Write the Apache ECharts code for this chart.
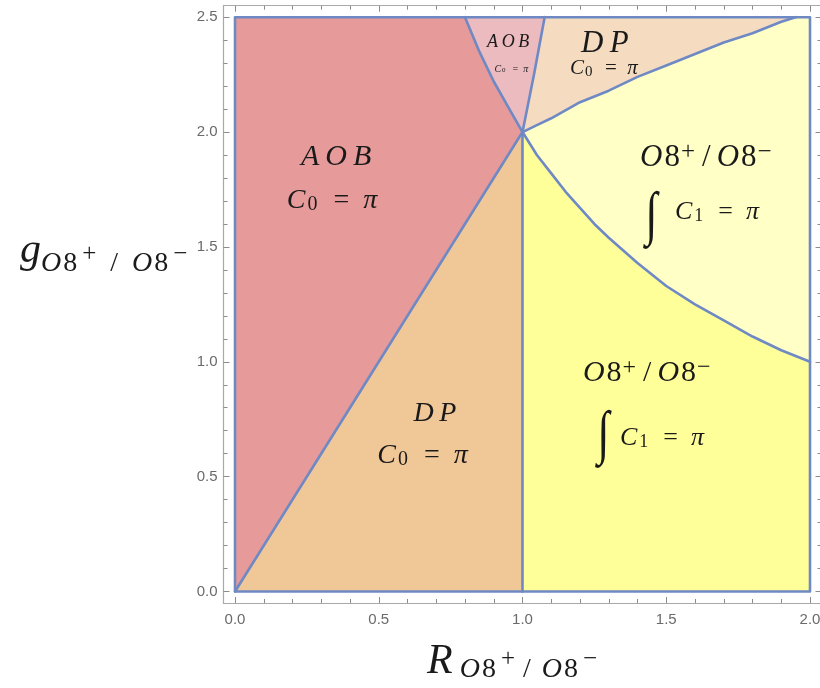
<!DOCTYPE html>
<html>
<head>
<meta charset="utf-8">
<script src="https://cdn.jsdelivr.net/npm/echarts@6/dist/echarts.min.js"></script>
<style>
html, body { margin: 0; padding: 0; background: #ffffff; }
#chart { width: 820px; height: 688px; }
</style>
</head>
<body>
<div id="chart"></div>
<script>
// Tick marks on the frame
const xTickValues = [0, 0.5, 1.0, 1.5, 2.0];
const yTickValues = [0, 0.5, 1.0, 1.5, 2.0, 2.5];
const xMinorTicks = [0.1, 0.2, 0.3, 0.4, 0.6, 0.7, 0.8, 0.9, 1.1, 1.2, 1.3, 1.4, 1.6, 1.7, 1.8, 1.9];
const yMinorTicks = [0.1, 0.2, 0.3, 0.4, 0.6, 0.7, 0.8, 0.9, 1.1, 1.2, 1.3, 1.4,
                     1.6, 1.7, 1.8, 1.9, 2.1, 2.2, 2.3, 2.4];

// Domain of the phase diagram
const rMax = 2.0;
const gMax = 2.5;

// Phase boundaries, sampled along each curve (R, g)
const diagonalR = [0.0, 1.0];
const diagonalG = [0.0, 2.0];
const verticalR = [1.0, 1.0];
const verticalG = [0.0, 2.0];
const aobSplitR = [0.80, 0.85, 0.90, 0.95, 1.00];
const aobSplitG = [2.50, 2.35, 2.22, 2.11, 2.00];
const steepR = [1.00, 1.04, 1.077];
const steepG = [2.00, 2.25, 2.50];
const upperR = [1.00, 1.05, 1.10, 1.20, 1.30, 1.40, 1.50, 1.60, 1.70, 1.80, 1.90, 1.95];
const upperG = [2.00, 2.03, 2.06, 2.13, 2.18, 2.24, 2.29, 2.34, 2.39, 2.43, 2.48, 2.50];
const lowerR = [1.00, 1.05, 1.10, 1.15, 1.20, 1.25, 1.30, 1.40, 1.50, 1.60, 1.70, 1.80, 1.90, 2.00];
const lowerG = [2.00, 1.90, 1.82, 1.74, 1.67, 1.60, 1.54, 1.43, 1.33, 1.25, 1.18, 1.11, 1.05, 1.00];

const zip = (rs, gs) => rs.map((r, i) => [r, gs[i]]);
const rev = (pts) => pts.slice().reverse();

const diagonal = zip(diagonalR, diagonalG);
const vertical = zip(verticalR, verticalG);
const aobSplit = zip(aobSplitR, aobSplitG);   // (0.8, 2.5) -> (1, 2)
const steep = zip(steepR, steepG);            // (1, 2) -> top edge
const upper = zip(upperR, upperG);            // (1, 2) -> top edge
const lower = zip(lowerR, lowerG);            // (1, 2) -> right edge

// Phase regions as closed polygons
const regions = [
  { color: '#e69a9a', pts: [[0, 0], [0, gMax]].concat(aobSplit) },                       // AOB
  { color: '#ecbbbf', pts: aobSplit.concat(steep.slice(1)) },                             // AOB (thin wedge)
  { color: '#f5dcc0', pts: steep.concat(rev(upper).slice(0, -1)) },                       // DP (top)
  { color: '#ffffc6', pts: upper.concat([[rMax, gMax], [rMax, 1.0]]).concat(rev(lower).slice(1, -1)) }, // O8 (upper)
  { color: '#f0c898', pts: [[0, 0], [1, 2], [1, 0]] },                                    // DP (bottom)
  { color: '#ffff99', pts: [[1, 0]].concat(lower).concat([[rMax, 0]]) }                   // O8 (lower)
];

const boundaries = [
  [[0, 0], [0, gMax], [rMax, gMax], [rMax, 0], [0, 0]],
  diagonal,
  vertical,
  aobSplit.slice(0, -1).concat(lower),
  steep,
  upper
];

const SERIF = '"Liberation Serif", "DejaVu Serif", serif';
const INK = '#1a1a1a';
function richSet(s) {
  return {
    it:  { fontFamily: SERIF, fontStyle: 'italic', fontSize: s, fill: INK, padding: [0, Math.round(s * 0.06), 0, 0] },
    up:  { fontFamily: SERIF, fontSize: s, fill: INK },
    sub: { fontFamily: SERIF, fontSize: Math.round(s * 0.7), fill: INK, padding: [Math.round(s * 0.3), 2, 0, 0] },
    sup: { fontFamily: SERIF, fontSize: Math.round(s * 0.8), fill: INK, padding: [0, 3, Math.round(s * 0.36), 1] },
    sl:  { fontFamily: SERIF, fontSize: s, fill: INK, padding: [0, Math.round(s * 0.2), 0, Math.round(s * 0.13)] },
    int: { fontFamily: SERIF, fontSize: s, fill: INK }
  };
}

const T_AOB = '{it|A\u2009O\u2009B}';
const T_DP = '{it|D\u2009P}';
const T_C0 = '{it|C}{sub|0}{up|\u2002=\u2002}{it|π}';
const T_O8 = '{it|O}{up|8}{sup|+}{sl|/}{it|O}{up|8}{sup|−}';
const T_C1 = '{it|C}{sub|1}{up|\u2002=\u2002}{it|π}';

// Region annotations, anchored in (R, g)
const annotations = [
  { at: [0.355, 1.892], text: T_AOB, size: 30, align: 'center' },
  { at: [0.341, 1.700], text: T_C0, size: 28, align: 'center' },
  { at: [0.699, 0.773], text: T_DP, size: 28, align: 'center' },
  { at: [0.656, 0.590], text: T_C0, size: 28, align: 'center' },
  { at: [0.952, 2.392], text: T_AOB, size: 18, align: 'center' },
  { at: [0.963, 2.275], text: T_C0, size: 10, align: 'center' },
  { at: [1.290, 2.383], text: T_DP, size: 31, align: 'center' },
  { at: [1.285, 2.275], text: T_C0, size: 21, align: 'center' },
  { at: [1.409, 1.887], text: T_O8, size: 31, align: 'left' },
  { at: [1.428, 1.628], text: '{int|∫}', size: 44, align: 'left', scaleY: 1.35 },
  { at: [1.530, 1.652], text: T_C1, size: 26, align: 'left' },
  { at: [1.210, 0.952], text: T_O8, size: 30, align: 'left' },
  { at: [1.261, 0.677], text: '{int|∫}', size: 44, align: 'left', scaleY: 1.35 },
  { at: [1.339, 0.669], text: T_C1, size: 26, align: 'left' }
];

function frameAxis(dir, position, values, len, main) {
  const isX = dir === 'x';
  return {
    type: 'value',
    position: position,
    min: isX ? -0.04 : -0.05,
    max: isX ? 2.04 : 2.55,
    axisLine: { show: main, onZero: false, lineStyle: { color: '#a9a9a9', width: 1.2 } },
    axisTick: { show: true, inside: true, length: len, customValues: values, lineStyle: { color: '#8c8c8c', width: 1 } },
    axisLabel: {
      show: main && (position === 'bottom' || position === 'left'),
      customValues: values,
      formatter: (v) => v.toFixed(1),
      color: '#6a6a6a',
      fontFamily: '"Liberation Sans", Arial, sans-serif',
      fontSize: 15,
      margin: isX ? 9 : 6
    },
    splitLine: { show: false },
    minorTick: { show: false }
  };
}

const chart = echarts.init(document.getElementById('chart'), null, { renderer: 'canvas' });

const series = [];
regions.forEach((reg) => {
  series.push({
    type: 'custom',
    coordinateSystem: 'cartesian2d',
    xAxisIndex: 0, yAxisIndex: 0,
    silent: true,
    z: 1,
    data: [[reg.pts[0][0], reg.pts[0][1]]],
    renderItem: (params, api) => ({
      type: 'polygon',
      shape: { points: reg.pts.map((p) => api.coord(p)) },
      style: { fill: reg.color, stroke: reg.color, lineWidth: 1 }
    })
  });
});
boundaries.forEach((pts) => {
  series.push({
    type: 'line',
    xAxisIndex: 0, yAxisIndex: 0,
    data: pts,
    showSymbol: false,
    silent: true,
    smooth: false,
    z: 3,
    lineStyle: { color: '#6f89c4', width: 2.6, join: 'round', cap: 'round' },
    animation: false
  });
});
series.push({
  type: 'custom',
  coordinateSystem: 'cartesian2d',
  xAxisIndex: 0, yAxisIndex: 0,
  silent: true,
  z: 5,
  data: annotations.map((a) => a.at),
  renderItem: (params, api) => {
    const a = annotations[params.dataIndex];
    const p = api.coord(a.at);
    return {
      type: 'text',
      x: p[0], y: p[1],
      scaleY: a.scaleY || 1,
      style: {
        text: a.text,
        rich: richSet(a.size),
        fontFamily: SERIF,
        fontSize: a.size,
        fill: INK,
        align: a.align,
        verticalAlign: 'middle'
      }
    };
  }
});

// Axis titles R_{O8+/O8-} and g_{O8+/O8-}
function titleRich(baseSize, basePad, subShift, supShift, slashPad) {
  return {
    b: { fontFamily: SERIF, fontStyle: 'italic', fontSize: baseSize, fill: INK, padding: [0, basePad, 0, 0] },
    s: { fontFamily: SERIF, fontStyle: 'italic', fontSize: 28, fill: INK, padding: [subShift, 1, 0, 0] },
    n: { fontFamily: SERIF, fontSize: 28, fill: INK, padding: [subShift, 0, 0, 1] },
    l: { fontFamily: SERIF, fontSize: 28, fill: INK, padding: [subShift, slashPad[1], 0, slashPad[0]] },
    p: { fontFamily: SERIF, fontSize: 25, fill: INK, padding: [Math.max(supShift, 0), 2, Math.max(-supShift, 0), 5] }
  };
}
const TITLE_SUB = '{s|O}{n|8}{p|+}{l|/}{s|O}{n|8}{p|−}';

const yRight = (values, len, main) => {
  const ax = frameAxis('y', 'right', values, len, main);
  ax.axisLine.show = false;
  return ax;
};

chart.setOption({
  animation: false,
  backgroundColor: '#ffffff',
  grid: { left: 223.5, top: 5.7, width: 598, height: 597.3, containLabel: false, outerBoundsMode: 'none' },
  xAxis: [
    frameAxis('x', 'bottom', xTickValues, 6, true),
    frameAxis('x', 'bottom', xMinorTicks, 4, false),
    frameAxis('x', 'top', xTickValues, 6, true),
    frameAxis('x', 'top', xMinorTicks, 4, false)
  ],
  yAxis: [
    frameAxis('y', 'left', yTickValues, 6, true),
    frameAxis('y', 'left', yMinorTicks, 4, false),
    yRight(yTickValues, 6, true),
    yRight(yMinorTicks, 4, false)
  ],
  graphic: [
    {
      type: 'text', left: 427, top: 641, z: 10,
      style: { text: '{b|R}' + TITLE_SUB, rich: titleRich(42, 7, 16, -6, [6, 11]) }
    },
    {
      type: 'text', left: 20, top: 230, z: 10,
      style: { text: '{b|g}' + TITLE_SUB, rich: titleRich(42, 0, 26, 6, [12, 14]) }
    }
  ],
  series: series
});
</script>
</body>
</html>
